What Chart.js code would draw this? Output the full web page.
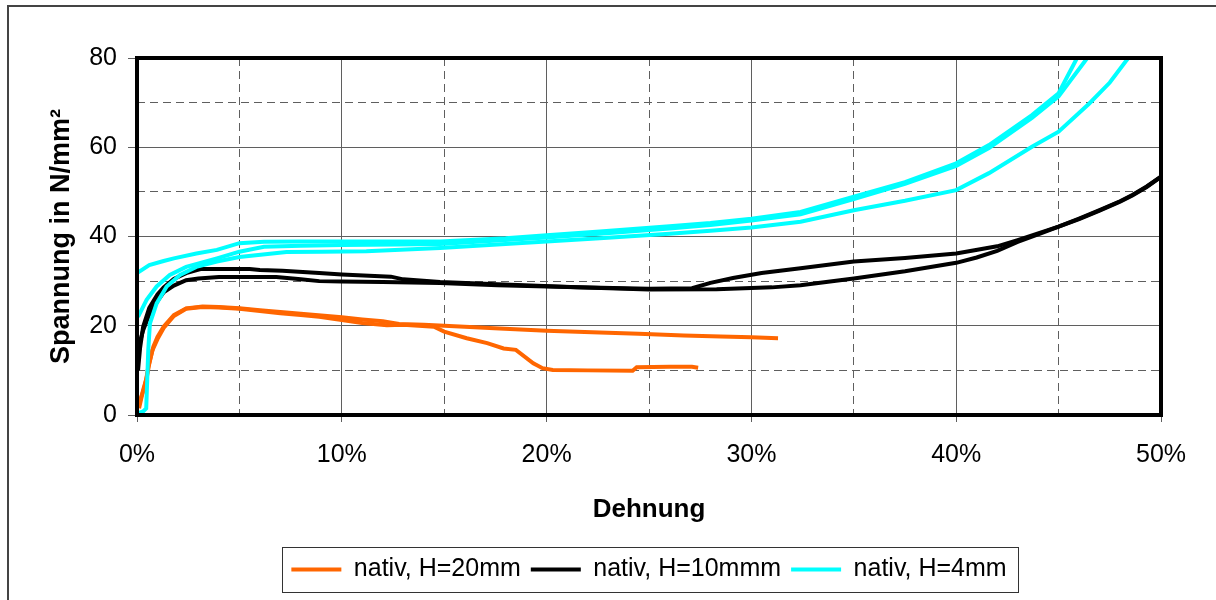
<!DOCTYPE html>
<html lang="de">
<head>
<meta charset="utf-8">
<title>Spannung-Dehnung</title>
<script src="https://cdn.jsdelivr.net/npm/chart.js@4.4.1/dist/chart.umd.min.js"></script>
<style>
  html, body { margin: 0; padding: 0; background: #fff; overflow: hidden; }
  #rahmen { position: absolute; left: 7px; top: 5px; width: 1400px; height: 800px;
            border-left: 2px solid #444; border-top: 2px solid #444; }
  #box { position: absolute; left: 0; top: 0; width: 1216px; height: 600px; }
</style>
</head>
<body>
<div id="rahmen"></div>
<div id="box"><canvas id="grafico"></canvas></div>
<script>
// Dehnung in %, Spannung in N/mm²
const nativ20aX = [0.1, 0.2, 0.3, 0.45, 0.55, 0.7, 0.8, 1.0, 1.3, 1.8, 2.4, 3.2, 4, 5, 6, 7, 8, 9, 10, 11, 12, 12.8, 14, 15, 16, 17.7, 20, 22.6, 24.5, 26.7, 28.5, 30, 31.3];
const nativ20aY = [1.5, 3.5, 5.6, 8, 10.8, 13.5, 15.3, 17.5, 19.8, 22.4, 23.9, 24.3, 24.2, 23.9, 23.5, 23.1, 22.7, 22.3, 21.9, 21.4, 21, 20.4, 20.2, 20, 19.8, 19.4, 18.9, 18.5, 18.2, 17.8, 17.6, 17.4, 17.2];
const nativ20bX = [0.1, 0.2, 0.35, 0.5, 0.6, 0.75, 1.0, 1.3, 1.8, 2.4, 3.2, 4, 5, 6, 7, 8, 8.9, 10, 11, 12.2, 13, 14.5, 15, 16.1, 17.1, 17.9, 18.5, 19.35, 19.8, 20.3, 22, 24.2, 24.4, 26, 27.1, 27.4];
const nativ20bY = [2.5, 4, 6, 9, 11.5, 14.5, 17, 19.5, 22.2, 23.8, 24.2, 24.1, 23.8, 23.3, 22.8, 22.4, 22, 21.3, 20.6, 20.1, 20.2, 19.8, 18.7, 17.2, 16.1, 14.9, 14.6, 11.6, 10.5, 10.1, 10, 9.9, 10.7, 10.8, 10.8, 10.6];

const nativ10aX = [0.05, 0.15, 0.3, 0.6, 1.0, 1.3, 1.8, 2.4, 3.1, 4, 5.5, 6, 7.1, 8.9, 10, 12.4, 13, 14.8, 17.6, 21.5, 25, 27.1, 28, 29.1, 30.5, 32.4, 35, 37.5, 40, 42, 43, 44, 45, 46, 47, 48, 48.6, 49.3, 50];
const nativ10aY = [10, 15, 19.8, 24, 27, 28.6, 30.5, 31.8, 32.7, 32.7, 32.7, 32.5, 32.3, 31.8, 31.5, 31, 30.4, 29.8, 29.3, 28.6, 28.3, 28.4, 29.6, 30.7, 31.8, 32.9, 34.4, 35.2, 36.2, 37.8, 39.2, 40.7, 42.2, 44, 45.9, 47.9, 49.3, 51.2, 53.4];
const nativ10bX = [0.05, 0.15, 0.3, 0.6, 1.0, 1.3, 1.8, 2.4, 3, 4, 5, 6.8, 8, 8.9, 10, 12, 14.8, 17.6, 21.5, 25, 28.3, 31, 32.4, 35, 37.5, 40, 41, 42, 43, 44, 45, 46, 47, 48, 48.6, 49.3, 50];
const nativ10bY = [13, 16.5, 19, 22.5, 25.5, 27.5, 29, 30.2, 30.6, 30.9, 30.9, 30.9, 30.4, 30, 29.9, 29.8, 29.6, 29.1, 28.6, 28.1, 28.2, 28.6, 29.1, 30.6, 32.2, 34.1, 35.3, 36.8, 38.8, 40.5, 42.2, 43.9, 45.8, 47.8, 49.2, 51.1, 53.4];

const nativ4aX = [0, 0.6, 1.3, 1.8, 2.9, 3.9, 5, 6.2, 8, 10, 12.8, 14.8, 18, 20, 22.6, 26, 28, 30, 32.4, 35, 37.5, 40, 41.6, 43.7, 45, 45.9];
const nativ4aY = [31.8, 33.6, 34.5, 35.1, 36.2, 37, 38.5, 38.8, 38.9, 38.9, 38.9, 38.9, 39.6, 40.3, 41.1, 42.3, 43, 44, 45.5, 48.9, 52.2, 56.4, 60.5, 67.2, 72.1, 80];
const nativ4bX = [0.05, 0.47, 0.96, 1.6, 2.4, 3.9, 5, 6.2, 8, 10, 12.8, 14.8, 18, 20, 22.6, 26, 28, 30, 32.4, 35, 37.5, 40, 41.6, 43.7, 45, 46.4];
const nativ4bY = [22, 25.8, 28.8, 31.4, 33.2, 35.1, 36.6, 37.7, 37.9, 38.1, 38.2, 38.3, 39.2, 39.8, 40.6, 41.8, 42.6, 43.6, 45, 48.4, 51.8, 55.8, 59.8, 66.6, 71.4, 80];
const nativ4cX = [0.05, 0.3, 0.45, 0.5, 0.55, 0.63, 0.96, 1.45, 2.1, 2.9, 3.9, 5, 7.3, 9, 11.2, 14.8, 18, 20, 22.6, 26, 28, 30, 32.4, 35, 37.5, 40, 41.6, 43.7, 45, 46.5, 47.5, 48.4];
const nativ4cY = [0.4, 0.8, 1.5, 8, 14.6, 20.5, 25, 28.8, 31.4, 33.2, 34.4, 35.4, 36.5, 36.6, 36.7, 37.4, 38.3, 38.9, 39.6, 40.6, 41.3, 42, 43.3, 45.9, 48, 50.4, 54.2, 60.1, 63.5, 69.8, 74.5, 80];

const xTicks = [0, 10, 20, 30, 40, 50];   // Dehnung in %
const yTicks = [0, 20, 40, 60, 80];       // Spannung

const schrift = "'Liberation Sans', Arial, sans-serif";
const gitterFarbe = '#5f5f5f';

function punkte(xs, ys) {
  return xs.map((x, i) => ({ x: x, y: ys[i] }));
}

function kurve(label, xs, ys, farbe, order) {
  return {
    label: label,
    data: punkte(xs, ys),
    borderColor: farbe,
    backgroundColor: farbe,
    borderWidth: 4,
    pointRadius: 0,
    showLine: true,
    tension: 0,
    order: order,
  };
}

// Rahmen um die Zeichenfläche und um die Legende
const rahmenPlugin = {
  id: 'rahmen',
  afterDatasetsDraw(chart) {
    const { ctx, chartArea: a } = chart;
    ctx.save();
    ctx.lineWidth = 4;
    ctx.strokeStyle = '#000';
    ctx.strokeRect(a.left, a.top, a.right - a.left, a.bottom - a.top);
    ctx.restore();
  },
  afterDraw(chart) {
    const lg = chart.legend;
    const boxes = lg.legendHitBoxes;
    if (!boxes || !boxes.length) return;
    const links = Math.min(...boxes.map(b => b.left)) - 9;
    const rechts = Math.max(...boxes.map(b => b.left + b.width)) + 12;
    const ctx = chart.ctx;
    ctx.save();
    ctx.lineWidth = 1;
    ctx.strokeStyle = '#333';
    ctx.strokeRect(Math.round(links) + 0.5, Math.round(lg.top) + 0.5,
                   Math.round(rechts - links), Math.round(lg.height));
    ctx.restore();
  }
};

const ctxGrafico = document.getElementById('grafico').getContext('2d');
const grafico = new Chart(ctxGrafico, {
  type: 'scatter',
  data: {
    datasets: [
      kurve('nativ, H=20mm', nativ20aX, nativ20aY, '#FF6600', 1),
      kurve('nativ, H=20mm', nativ20bX, nativ20bY, '#FF6600', 1),
      kurve('nativ, H=10mmm', nativ10aX, nativ10aY, '#000000', 2),
      kurve('nativ, H=10mmm', nativ10bX, nativ10bY, '#000000', 2),
      kurve('nativ, H=4mm', nativ4aX, nativ4aY, '#00FFFF', 0),
      kurve('nativ, H=4mm', nativ4bX, nativ4bY, '#00FFFF', 0),
      kurve('nativ, H=4mm', nativ4cX, nativ4cY, '#00FFFF', 0),
    ],
  },
  options: {
    responsive: true,
    maintainAspectRatio: false,
    animation: false,
    events: [],
    layout: { padding: { top: 58, left: 30, right: 55, bottom: 8 } },
    scales: {
      x: {
        type: 'linear',
        position: 'bottom',
        min: 0,
        max: 50,
        afterBuildTicks: s => { s.ticks = xTicks.map(v => ({ value: v })); },
        afterFit: s => { s.height = 132; },
        ticks: {
          autoSkip: false,
          maxRotation: 0,
          padding: 18,
          color: '#000',
          font: { family: schrift, size: 25 },
          callback: v => v + '%',
        },
        grid: { color: gitterFarbe, lineWidth: 1, tickLength: 7, tickColor: gitterFarbe },
        border: { display: false },
        title: {
          display: true,
          text: 'Dehnung',
          color: '#000',
          font: { family: schrift, size: 26, weight: 'bold' },
          padding: { top: 0, bottom: 22 },
        },
      },
      y: {
        type: 'linear',
        position: 'left',
        min: 0,
        max: 80,
        afterBuildTicks: s => { s.ticks = yTicks.map(v => ({ value: v })); },
        afterFit: s => { s.width = 107; },
        ticks: {
          padding: 11,
          color: '#000',
          font: { family: schrift, size: 25 },
        },
        grid: { color: gitterFarbe, lineWidth: 1, tickLength: 9, tickColor: gitterFarbe },
        border: { display: false },
        title: {
          display: true,
          text: 'Spannung in N/mm²',
          color: '#000',
          font: { family: schrift, size: 27, weight: 'bold' },
          padding: { top: 15, bottom: 0 },
        },
      },
      // gestrichelte Zwischenlinien
      xm: {
        type: 'linear',
        position: 'bottom',
        min: 0,
        max: 50,
        ticks: { display: false, stepSize: 5 },
        afterFit: s => { s.height = 0; },
        grid: {
          drawTicks: false,
          color: c => (c.tick && c.tick.value % 10 !== 0) ? gitterFarbe : 'rgba(0,0,0,0)',
        },
        border: { display: false, dash: [8, 5] },
      },
      ym: {
        type: 'linear',
        position: 'left',
        min: 0,
        max: 80,
        ticks: { display: false, stepSize: 10 },
        afterFit: s => { s.width = 0; },
        grid: {
          drawTicks: false,
          color: c => (c.tick && c.tick.value % 20 !== 0) ? gitterFarbe : 'rgba(0,0,0,0)',
        },
        border: { display: false, dash: [8, 5] },
      },
    },
    plugins: {
      tooltip: { enabled: false },
      legend: {
        position: 'bottom',
        fullSize: false,
        labels: {
          color: '#000',
          font: { family: schrift, size: 25 },
          usePointStyle: true,
          pointStyle: 'line',
          pointStyleWidth: 50,
          padding: 10,
          sort: (a, b) => a.datasetIndex - b.datasetIndex,
          filter: (item, data) =>
            data.datasets.findIndex(d => d.label === item.text) === item.datasetIndex,
        },
      },
    },
  },
  plugins: [rahmenPlugin],
});
</script>
</body>
</html>
